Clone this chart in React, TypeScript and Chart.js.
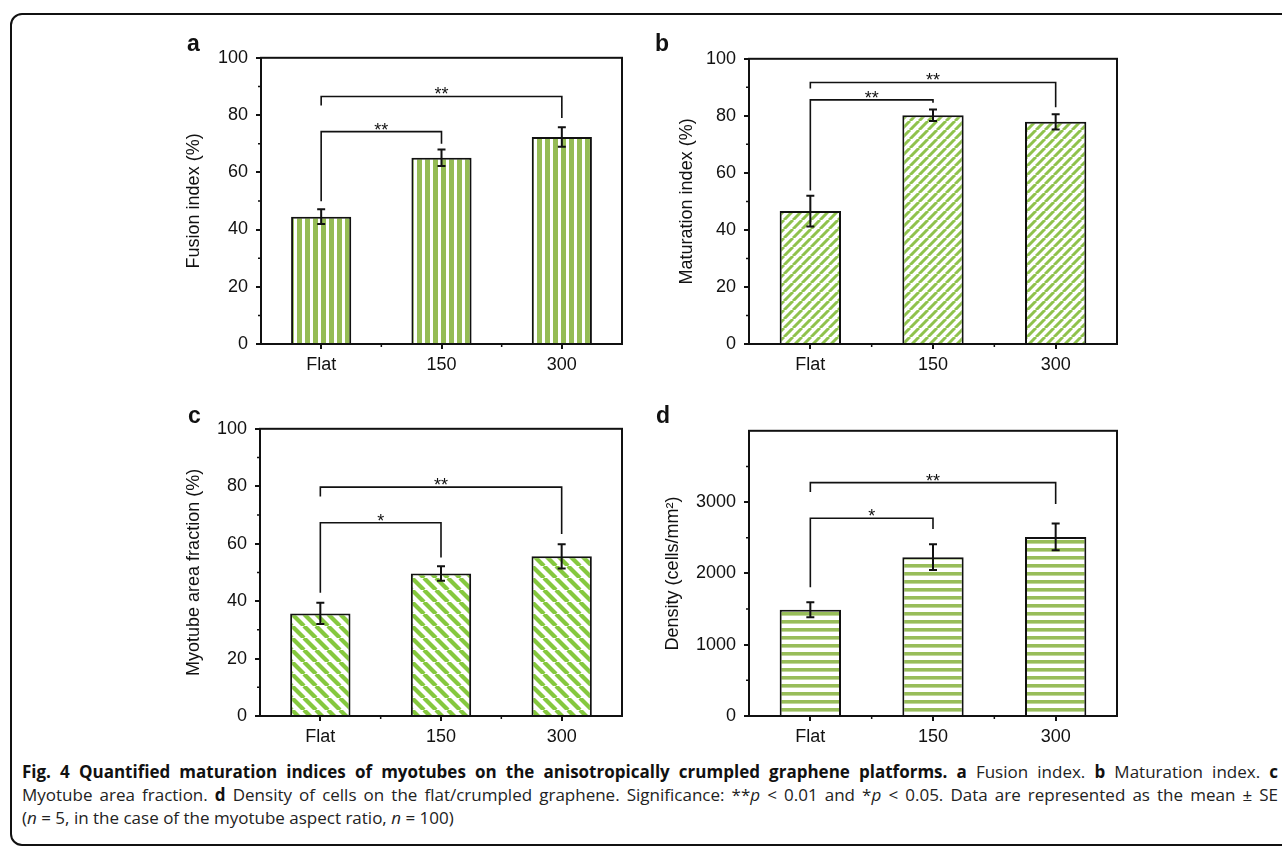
import React, { useEffect, useRef } from 'react';
import { Chart, registerables } from 'chart.js';
Chart.register(...registerables);

// ---------- data ----------
const categories = ['Flat', '150', '300'];

const fusionIndex = [44.5, 65.1, 72.3];
const fusionErr = [2.6, 2.9, 3.4];
const maturationIndex = [46.6, 80.2, 77.9];
const maturationErr = [5.4, 2.0, 2.7];
const areaFraction = [35.7, 49.6, 55.6];
const areaErr = [3.7, 2.5, 4.2];
const density = [1490, 2228, 2512];
const densityErr = [104, 182, 187];

const percentTicks = [0, 20, 40, 60, 80, 100];
const percentMinor = [10, 30, 50, 70, 90];
const densityTicks = [0, 1000, 2000, 3000];
const densityMinor = [500, 1500, 2500, 3500];

// significance brackets: [fromIndex, toIndex, barLevel, leftLegEnd, rightLegEnd, label]
const sigA = [
  [0, 2, 86.5, 83.3, 79.0, '**'],
  [0, 1, 74.2, 49.9, 70.0, '**'],
];
const sigB = [
  [0, 2, 91.7, 89.6, 83.0, '**'],
  [0, 1, 85.6, 53.8, 84.6, '**'],
];
const sigC = [
  [0, 2, 79.7, 76.4, 63.4, '**'],
  [0, 1, 67.3, 42.9, 55.2, '*'],
];
const sigD = [
  [0, 2, 3273, 3142, 2973, '**'],
  [0, 1, 2774, 1805, 2624, '*'],
];

const FONT = '"Liberation Sans", Arial, Helvetica, sans-serif';
const INK = '#111';

function stripePattern(kind: string, color: string, period: number, width: number) {
  const c = document.createElement('canvas');
  c.width = period;
  c.height = period;
  const g = c.getContext('2d')!;
  g.fillStyle = '#fff';
  g.fillRect(0, 0, period, period);
  g.fillStyle = color;
  g.strokeStyle = color;
  if (kind === 'v') {
    g.fillRect(0, 0, width, period);
  } else if (kind === 'h') {
    g.fillRect(0, 0, period, width);
  } else {
    g.lineWidth = width;
    for (const o of [-period, 0, period]) {
      g.beginPath();
      if (kind === '/') {
        g.moveTo(o, period);
        g.lineTo(o + period, 0);
      } else {
        g.moveTo(o, 0);
        g.lineTo(o + period, period);
      }
      g.stroke();
    }
  }
  return g.createPattern(c, 'repeat');
}

type Spec = {
  area: [number, number, number, number];
  titleX: number;
  title: string;
  values: number[];
  errors: number[];
  max: number;
  ticks: number[];
  minor: number[];
  brackets: any[];
  pattern: [string, string, number, number];
};

const YW = 100;

function Panel({ spec }: { spec: Spec }) {
  const ref = useRef<HTMLCanvasElement | null>(null);
  const [l, t, r, b] = spec.area;
  const left = l - YW;
  const top = t - 10;
  const width = YW + (r - l) + 10;
  const height = 10 + (b - t) + 40;

  useEffect(() => {
    const [kind, color, period, w] = spec.pattern;
    const pattern = stripePattern(kind, color, period, w);
    const overlay = {
      id: 'overlay',
      afterDatasetsDraw(chart: any) {
        const { ctx, chartArea: ca, scales } = chart;
        const x = scales.x;
        const y = scales.y;
        ctx.save();
        ctx.strokeStyle = INK;
        ctx.fillStyle = INK;
        // error bars
        ctx.lineWidth = 2;
        spec.values.forEach((v, i) => {
          const px = x.getPixelForValue(i);
          const pt = y.getPixelForValue(v + spec.errors[i]);
          const pb = y.getPixelForValue(v - spec.errors[i]);
          ctx.beginPath();
          ctx.moveTo(px, pt);
          ctx.lineTo(px, pb);
          ctx.moveTo(px - 4, pt);
          ctx.lineTo(px + 4, pt);
          ctx.moveTo(px - 4, pb);
          ctx.lineTo(px + 4, pb);
          ctx.stroke();
        });
        // significance brackets
        ctx.lineWidth = 1.6;
        ctx.font = `18px ${FONT}`;
        ctx.textAlign = 'center';
        ctx.textBaseline = 'alphabetic';
        spec.brackets.forEach((bk) => {
          const [from, to, lvl, le, re, label] = bk;
          const x1 = x.getPixelForValue(from);
          const x2 = x.getPixelForValue(to);
          const yy = y.getPixelForValue(lvl);
          ctx.beginPath();
          ctx.moveTo(x1, y.getPixelForValue(le));
          ctx.lineTo(x1, yy);
          ctx.lineTo(x2, yy);
          ctx.lineTo(x2, y.getPixelForValue(re));
          ctx.stroke();
          ctx.fillText(label, (x1 + x2) / 2, yy + 4);
        });
        // frame
        ctx.lineWidth = 2;
        ctx.strokeRect(ca.left, ca.top, ca.right - ca.left, ca.bottom - ca.top);
        // minor ticks
        ctx.lineWidth = 1.5;
        ctx.beginPath();
        spec.minor.forEach((v) => {
          const py = y.getPixelForValue(v);
          ctx.moveTo(ca.left - 3, py);
          ctx.lineTo(ca.left, py);
        });
        for (let i = 0; i < categories.length - 1; i++) {
          const px = (x.getPixelForValue(i) + x.getPixelForValue(i + 1)) / 2;
          ctx.moveTo(px, ca.bottom);
          ctx.lineTo(px, ca.bottom + 3);
        }
        ctx.stroke();
        ctx.restore();
      },
    };

    const tickFont = { family: FONT, size: 18 };
    const chart = new Chart(ref.current!, {
      type: 'bar',
      data: {
        labels: categories,
        datasets: [
          {
            data: spec.values,
            backgroundColor: pattern as any,
            borderColor: INK,
            borderWidth: 2,
            barPercentage: 0.5,
            categoryPercentage: 1,
          },
        ],
      },
      options: {
        animation: false,
        responsive: false,
        devicePixelRatio: 1,
        layout: { padding: { top: 10, right: 10, left: 0, bottom: 0 } },
        plugins: { legend: { display: false }, tooltip: { enabled: false } },
        scales: {
          x: {
            grid: { display: true, drawOnChartArea: false, offset: false, tickLength: 5, lineWidth: 2, color: INK },
            border: { display: false },
            ticks: { padding: 5, color: INK, font: tickFont },
            afterFit: (s: any) => {
              s.height = 40;
            },
          },
          y: {
            min: 0,
            max: spec.max,
            grid: { display: true, drawOnChartArea: false, tickLength: 5, lineWidth: 2, color: INK },
            border: { display: false },
            afterBuildTicks: (s: any) => {
              s.ticks = spec.ticks.map((v) => ({ value: v }));
            },
            ticks: { padding: 8, color: INK, font: tickFont, callback: (v: any) => String(v) },
            title: {
              display: true,
              text: spec.title,
              color: INK,
              font: { family: FONT, size: 18 },
              padding: { top: spec.titleX - left - 10.8, bottom: 0 },
            },
            afterFit: (s: any) => {
              s.width = YW;
            },
          },
        },
      } as any,
      plugins: [overlay],
    });
    return () => chart.destroy();
  }, []);

  return (
    <canvas
      ref={ref}
      width={width}
      height={height}
      style={{ position: 'absolute', left, top, width, height }}
    />
  );
}

const panels: Spec[] = [
  {
    area: [261, 49, 622, 344],
    titleX: 194,
    title: 'Fusion index (%)',
    values: fusionIndex,
    errors: fusionErr,
    max: 100,
    ticks: percentTicks,
    minor: percentMinor,
    brackets: sigA,
    pattern: ['v', '#95bc55', 8, 5],
  },
  {
    area: [749, 50, 1117, 344],
    titleX: 687,
    title: 'Maturation index (%)',
    values: maturationIndex,
    errors: maturationErr,
    max: 100,
    ticks: percentTicks,
    minor: percentMinor,
    brackets: sigB,
    pattern: ['/', '#8fc24c', 9, 3],
  },
  {
    area: [260, 420, 622, 716],
    titleX: 194,
    title: 'Myotube area fraction (%)',
    values: areaFraction,
    errors: areaErr,
    max: 100,
    ticks: percentTicks,
    minor: percentMinor,
    brackets: sigC,
    pattern: ['\\', '#85c83e', 12, 4.2],
  },
  {
    area: [749, 422, 1117, 716],
    titleX: 673,
    title: 'Density (cells/mm\u00B2)',
    values: density,
    errors: densityErr,
    max: 4000,
    ticks: densityTicks,
    minor: densityMinor,
    brackets: sigD,
    pattern: ['h', '#98bd5a', 8, 3.6],
  },
];

const panelLabels: [string, number, number][] = [
  ['a', 187, 32],
  ['b', 655, 32],
  ['c', 188, 404],
  ['d', 656, 404],
];

const capFont = '"Open Sans", "Noto Sans", sans-serif';

export default function App() {
  const lineStyle = (top: number, justify: boolean): React.CSSProperties => ({
    position: 'absolute',
    left: 22,
    width: 1256,
    top,
    fontFamily: capFont,
    fontSize: 17,
    lineHeight: '25px',
    color: '#222',
    whiteSpace: 'nowrap',
    textAlign: justify ? 'justify' : 'left',
    textAlignLast: justify ? 'justify' : 'left',
  } as React.CSSProperties);
  return (
    <div style={{ position: 'absolute', left: 0, top: 0, width: 1282, height: 850, background: '#fff', overflow: 'hidden' }}>
      <div
        style={{
          position: 'absolute',
          left: 9.5,
          top: 13,
          width: 1320,
          height: 833,
          border: '2px solid #111',
          borderRadius: 12,
          boxSizing: 'border-box',
        }}
      />
      {panels.map((p, i) => (
        <Panel key={i} spec={p} />
      ))}
      {panelLabels.map(([t, x, y]) => (
        <div
          key={t}
          style={{ position: 'absolute', left: x, top: y, fontFamily: FONT, fontWeight: 'bold', fontSize: 23, lineHeight: '23px', color: INK }}
        >
          {t}
        </div>
      ))}
      <div style={lineStyle(759, true)}>
        <b style={{ color: '#111' }}>
          Fig. 4 Quantified maturation indices of myotubes on the anisotropically crumpled graphene platforms. a
        </b>{' '}
        Fusion index. <b style={{ color: '#111' }}>b</b> Maturation index. <b style={{ color: '#111' }}>c</b>
      </div>
      <div style={lineStyle(782, true)}>
        Myotube area fraction. <b style={{ color: '#111' }}>d</b> Density of cells on the flat/crumpled graphene.
        Significance: **<i>p</i> &lt; 0.01 and *<i>p</i> &lt; 0.05. Data are represented as the mean ± SE
      </div>
      <div style={lineStyle(805, false)}>
        (<i>n</i> = 5, in the case of the myotube aspect ratio, <i>n</i> = 100)
      </div>
    </div>
  );
}
